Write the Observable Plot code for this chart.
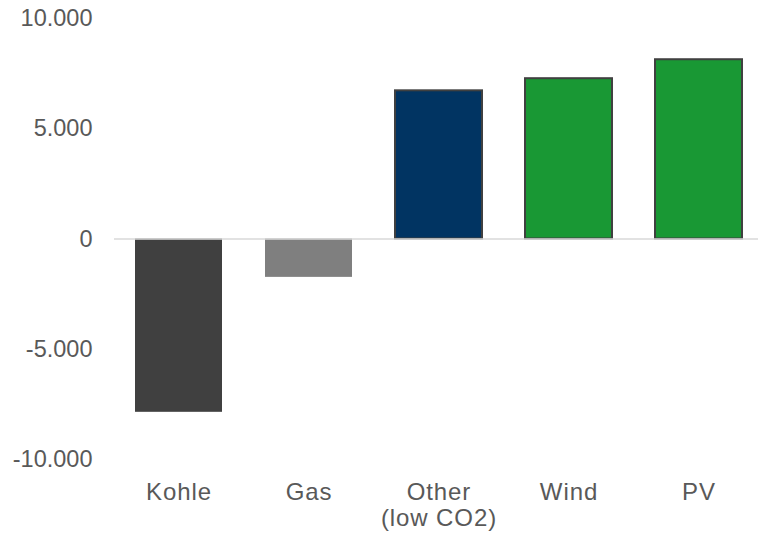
<!DOCTYPE html>
<html>
<head>
<meta charset="utf-8">
<script src="https://cdn.jsdelivr.net/npm/d3@7"></script>
<script src="https://cdn.jsdelivr.net/npm/@observablehq/plot@0.6"></script>
<style>
  html, body { margin: 0; padding: 0; background: #fff; }
  g[aria-label="x-axis tick label"] text { letter-spacing: 0.9px; }
</style>
</head>
<body>
<div id="chart"></div>
<script>
// Change per technology
const categories = ["Kohle", "Gas", "Other", "Wind", "PV"];
const categoryLabels = ["Kohle", "Gas", "Other\n(low CO2)", "Wind", "PV"];
const values = [-7860, -1740, 6720, 7270, 8130];
const colors = ["#404040", "#7f7f7f", "#013462", "#199834", "#199834"];
const yTicks = [-10000, -5000, 0, 5000, 10000];

const data = categories.map((c, i) => ({ category: c, value: values[i], color: colors[i] }));
const labelOf = new Map(categories.map((c, i) => [c, categoryLabels[i]]));

// German number format: dot as thousands separator, plain hyphen for minus
const de = d3.formatLocale({ decimal: ",", thousands: ".", grouping: [3], currency: ["", " €"], minus: "-" });
const fmt = de.format(",");

const chart = Plot.plot({
  width: 758,
  height: 535,
  marginLeft: 114,
  marginRight: 0,
  marginTop: 18,
  marginBottom: 76,
  style: {
    fontFamily: "'Liberation Sans', Arial, sans-serif",
    fontSize: "23.5px",
    color: "#595959",
    background: "#fff"
  },
  x: {
    domain: categories,
    range: [114, 764],
    paddingInner: 0.33,
    paddingOuter: 0.165,
    align: 0.5
  },
  y: {
    domain: [-10000, 10000]
  },
  color: { type: "identity" },
  marks: [
    Plot.axisY(yTicks, {
      tickFormat: fmt,
      tickSize: 0,
      tickPadding: 22,
      fontSize: 23.5,
      label: null
    }),
    Plot.axisX({
      tickFormat: d => labelOf.get(d),
      tickSize: 0,
      tickPadding: 21,
      fontSize: 24,
      lineHeight: 1.12,
      label: null
    }),
    Plot.barY(data.filter(d => d.value < 0), { x: "category", y: "value", fill: "color" }),
    Plot.barY(data.filter(d => d.value >= 0), { x: "category", y: "value", fill: "color", stroke: "#404040", strokeWidth: 2 }),
    Plot.ruleY([0], { stroke: "#d9d9d9", strokeWidth: 1.5 })
  ]
});

document.getElementById("chart").appendChild(chart);
</script>
</body>
</html>
